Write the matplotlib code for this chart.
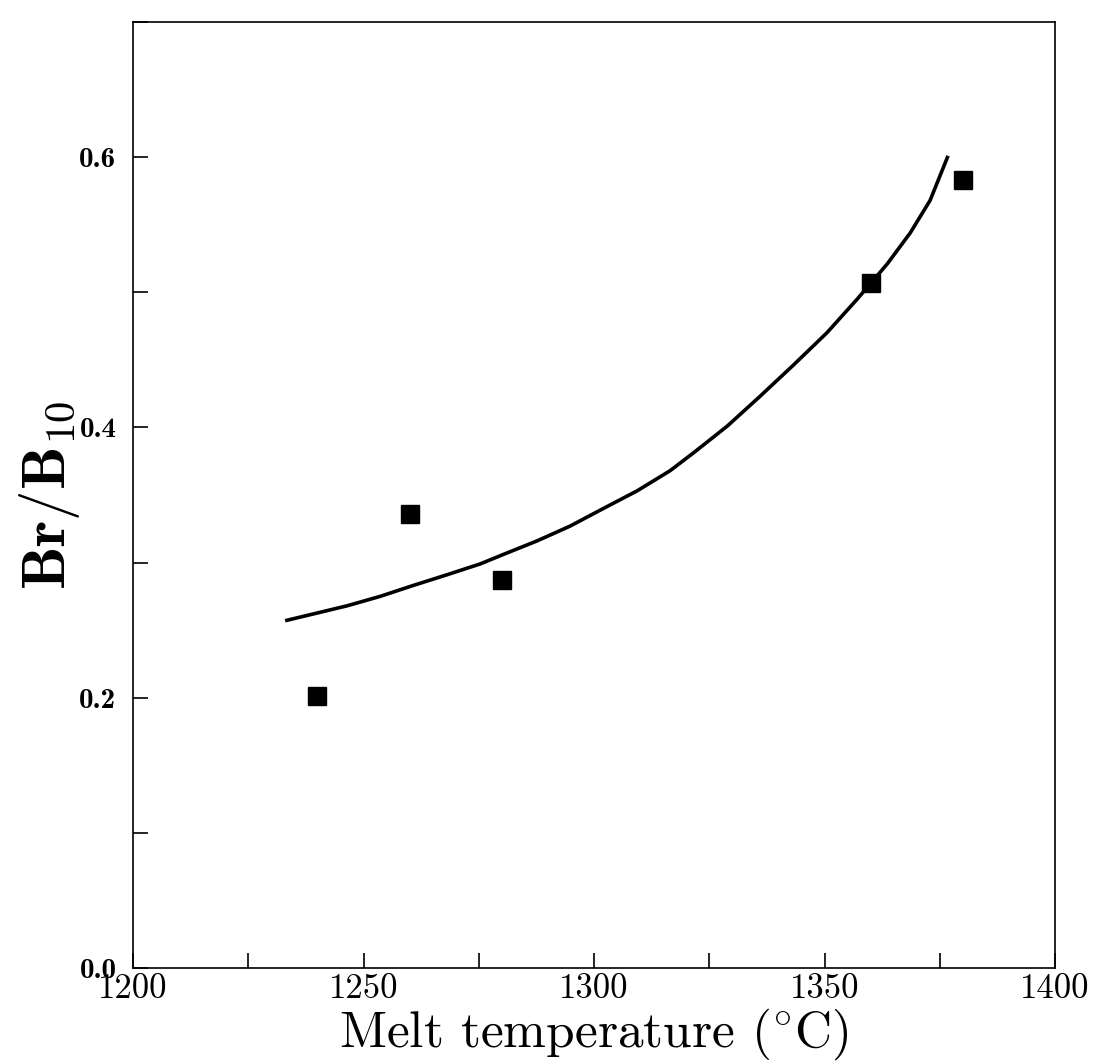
import numpy as np
import matplotlib
matplotlib.use("Agg")
import matplotlib.pyplot as plt
from matplotlib.ticker import MultipleLocator

# measured points
temp = [1240, 1260, 1280, 1360, 1380]
ratio = [0.201, 0.336, 0.287, 0.507, 0.583]

# fitted curve
curve_t = [1233.0, 1239.1, 1246.4, 1253.6, 1260.7, 1268.1, 1275.3, 1280.3,
           1287.6, 1294.8, 1302.0, 1309.3, 1316.5, 1321.5, 1328.9, 1336.0,
           1343.2, 1350.5, 1357.1, 1363.6, 1368.6, 1372.9, 1376.8]
curve_r = [0.257, 0.262, 0.268, 0.275, 0.283, 0.291, 0.299, 0.306,
           0.316, 0.327, 0.340, 0.353, 0.368, 0.381, 0.401, 0.423,
           0.446, 0.470, 0.495, 0.521, 0.544, 0.568, 0.601]

plt.rcParams['mathtext.fontset'] = 'cm'

fig = plt.figure(figsize=(10.96, 10.64), dpi=100)
ax = fig.add_axes([0.1214, 0.0902, 0.8412, 0.8891])

ax.plot(curve_t, curve_r, color='black', linewidth=2.6,
        solid_joinstyle='round', solid_capstyle='butt')
ax.plot(temp, ratio, linestyle='none', marker='s', markersize=13,
        color='black')

ax.set_xlim(1200, 1400)
ax.set_ylim(0.0, 0.7)
ax.xaxis.set_major_locator(MultipleLocator(50))
ax.xaxis.set_minor_locator(MultipleLocator(25))
ax.yaxis.set_major_locator(MultipleLocator(0.2))
ax.yaxis.set_minor_locator(MultipleLocator(0.1))
ax.yaxis.set_major_formatter(lambda v, p: f"{v:.1f}")

ax.tick_params(which='both', direction='in', top=False, right=False, width=1.2)
ax.tick_params(which='major', length=11)
ax.tick_params(which='minor', length=11)
ax.tick_params(axis='x', pad=4)
ax.tick_params(axis='y', pad=12)

for lab in ax.get_xticklabels():
    lab.set_family('cmr10')
    lab.set_fontsize(25)
for lab in ax.get_yticklabels():
    lab.set_family('cmb10')
    lab.set_fontsize(21)

for sp in ax.spines.values():
    sp.set_linewidth(1.2)

ax.set_xlabel(r"Melt temperature ($^{\circ}$C)", family='cmr10',
              fontsize=37, labelpad=1)
ax.set_ylabel(r"$\mathbf{Br/B_{10}}$", fontsize=44, labelpad=-2)

fig.savefig("out.png", dpi=100)
